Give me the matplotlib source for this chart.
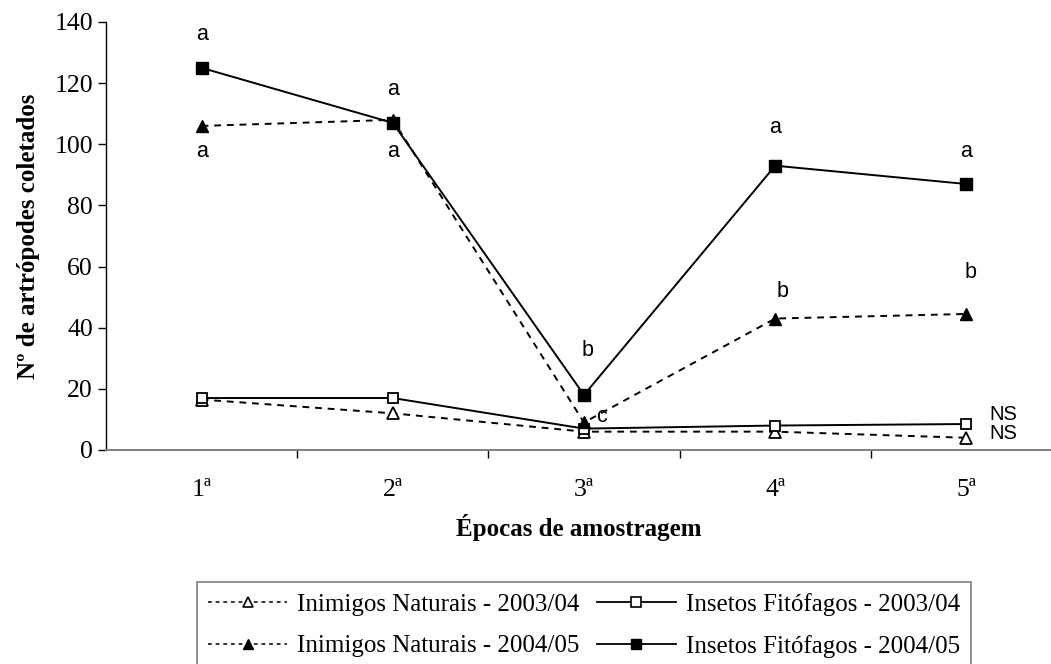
import matplotlib.pyplot as plt
from matplotlib.lines import Line2D

epocas = ["1ª", "2ª", "3ª", "4ª", "5ª"]
x = [1, 2, 3, 4, 5]

# valores
inimigos_0304 = [16.5, 12, 6, 6, 4]
fitofagos_0304 = [17, 17, 7, 8, 8.5]
inimigos_0405 = [106, 108, 9, 43, 44.5]
fitofagos_0405 = [125, 107, 18, 93, 87]

serif = "Liberation Serif"
sans = "Liberation Sans"

fig = plt.figure(figsize=(10.51, 6.64), dpi=100)
ax = fig.add_axes([106/1051, 1 - 450/664, 945/1051, 428/664])

dash = (0, (3.5, 3))
ax.plot(x, inimigos_0304, color="black", lw=1.4, ls=dash, marker="^",
        mfc="white", mec="black", ms=9, mew=1.3, zorder=3)
ax.plot(x, fitofagos_0304, color="black", lw=1.4, ls="-", marker="s",
        mfc="white", mec="black", ms=7.5, mew=1.3, zorder=3)
ax.plot(x, inimigos_0405, color="black", lw=1.4, ls=dash, marker="^",
        mfc="black", mec="black", ms=9, zorder=4)
ax.plot(x, fitofagos_0405, color="black", lw=1.4, ls="-", marker="s",
        mfc="black", mec="black", ms=8, zorder=4)

# letras de significancia
letras = [("a", 1, 136), ("a", 1, 97.5), ("a", 2, 118), ("a", 2, 97.5),
          ("b", 3.02, 32.5), ("c", 3.09, 11), ("a", 4, 105.5), ("b", 4.04, 52),
          ("a", 5, 97.5), ("b", 5.02, 58)]
for txt, xx, yy in letras:
    ax.text(xx, yy, txt, ha="center", va="center", fontsize=15.5, family=sans)
ax.text(5.12, 11.6, "NS", ha="left", va="center", fontsize=14.5, family=sans)
ax.text(5.12, 5.4, "NS", ha="left", va="center", fontsize=14.5, family=sans)

ax.set_xlim(0.5, 0.5 + 945/191.2)
ax.set_ylim(0, 140)
ax.set_yticks(range(0, 141, 20))
ax.set_yticklabels([str(v) for v in range(0, 141, 20)], family=serif, fontsize=18.5)
ax.set_xticks(x)
ax.set_xticklabels(epocas, family=serif, fontsize=18.5)
ax.set_xticks([1.5, 2.5, 3.5, 4.5], minor=True)
ax.tick_params(axis="x", which="major", length=0, pad=21)
ax.tick_params(axis="x", which="minor", length=5.5, width=1, color="black")
ax.tick_params(axis="y", length=5.5, width=1, pad=4)

for s in ["top", "right"]:
    ax.spines[s].set_visible(False)
ax.spines["bottom"].set_color("#808080")
ax.spines["bottom"].set_linewidth(1.4)
ax.spines["left"].set_linewidth(1)

ax.set_ylabel("Nº de artrópodes coletados", family=serif, fontsize=18,
              fontweight="bold", labelpad=10)
ax.set_xlabel("Épocas de amostragem", family=serif, fontsize=18,
              fontweight="bold", labelpad=9)

legdash = (0, (2.5, 2.5))
handles = [
    Line2D([], [], color="black", lw=1.1, ls=legdash, marker="^", mfc="white",
           mec="black", ms=7.5, mew=1.2),
    Line2D([], [], color="black", lw=1.1, ls=legdash, marker="^", mfc="black",
           mec="black", ms=7.5),
    Line2D([], [], color="black", lw=1.3, ls="-", marker="s", mfc="white",
           mec="black", ms=7, mew=1.2),
    Line2D([], [], color="black", lw=1.3, ls="-", marker="s", mfc="black",
           mec="black", ms=7),
]
labels = ["Inimigos Naturais - 2003/04", "Inimigos Naturais - 2004/05",
          "Insetos Fitófagos - 2003/04", "Insetos Fitófagos - 2004/05"]
leg = fig.legend(handles, labels, ncol=2, loc="upper left",
                 bbox_to_anchor=(197/1051, 1 - 582/664),
                 prop={"family": serif, "size": 18}, frameon=True,
                 fancybox=False, borderpad=0.45, handlelength=3.15,
                 handletextpad=0.4, columnspacing=0.7, labelspacing=0.75,
                 borderaxespad=0)
leg.get_frame().set_edgecolor("#606060")
leg.get_frame().set_linewidth(1.2)

fig.savefig("out.png", dpi=100)
